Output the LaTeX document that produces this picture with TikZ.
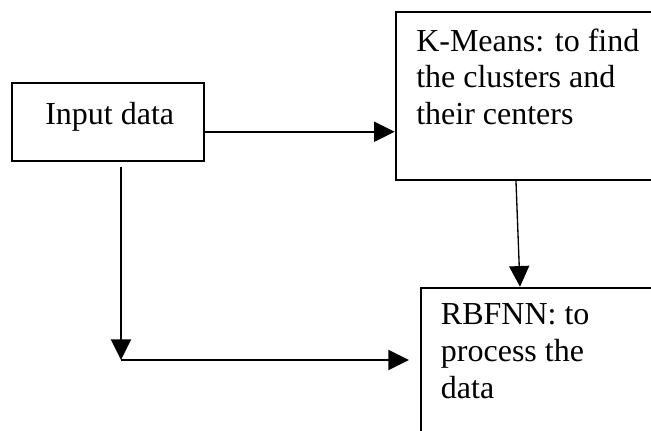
\documentclass[tikz,border=0pt]{standalone}
\usepackage{fontspec}
\setmainfont{Liberation Serif}
\usetikzlibrary{arrows.meta}
\begin{document}
\begin{tikzpicture}[x=0.75pt,y=-0.75pt,
  box/.style={draw=black,line width=1.5pt,inner sep=0pt},
  txt/.style={anchor=base west,align=left,inner sep=0pt,font=\fontsize{24pt}{27.5pt}\selectfont},
  arr/.style={-{Triangle[length=15.5pt,width=15pt]},line width=1.5pt}]
\useasboundingbox (0,0) rectangle (651,430);
\fill[white] (0,0) rectangle (651,430);
\clip (0,0) rectangle (651,430);
\node[box,minimum width=144.2pt,minimum height=57.9pt] (inbox) at (107.85,121.9) {};
\node[box,minimum width=228.2pt,minimum height=126.2pt] (kbox) at (547.85,95.85) {};
\node[box,minimum width=209.5pt,minimum height=129.2pt] (rbox) at (560.35,373.85) {};
\node[txt] (intext) at (45,124) {Input data};
\node[txt] (ktext) at (416,124.5) {K-Means: to find\\the clusters and\\their centers};
\node[txt] (rtext) at (440.7,398) {RBFNN: to\\process the\\data};
\coordinate (hy) at (0,131.7);
\coordinate (vstart) at (121,167.3);
\coordinate (corner) at (121,360);
\coordinate (hend) at (409,360);
\draw[arr] (inbox.east |- hy) -- (kbox.west |- hy);
\draw[arr,line width=1pt] ([xshift=-23.9pt]kbox.south) -- ([xshift=-30.26pt]rbox.north);
\draw[arr] (vstart) -- (corner);
\draw[arr] (corner) -- (hend);
\end{tikzpicture}
\end{document}
